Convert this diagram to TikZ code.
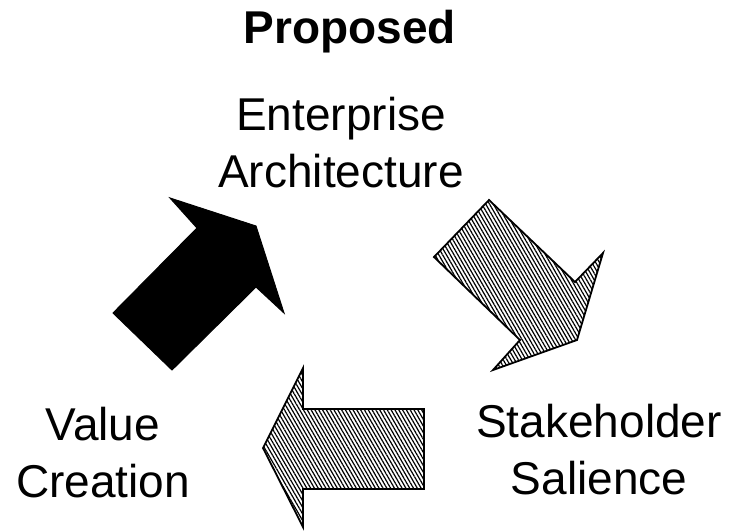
\documentclass[tikz,border=0pt]{standalone}
\usepackage{fontspec}
\setmainfont{Liberation Sans}
\usetikzlibrary{patterns.meta}
\tikzset{
	thick,
	topic/.style = {
			align      = center,
			anchor     = base,
			inner sep  = 0pt,
			font       = \fontsize{46}{57}\selectfont,
		},
	headline/.style = {
			anchor     = base,
			inner sep  = 0pt,
			font       = \fontsize{46}{57}\selectfont\bfseries,
		},
	solidarrow/.style = {
			draw = black,
			fill = black,
			line width = 1pt,
		},
	hatcharrow/.style = {
			draw = black,
			line width = 1.8pt,
			pattern = {Lines[angle=-60, distance=3.3pt, line width=1.2pt]},
		}
}

\begin{document}
\begin{tikzpicture}[x=1pt, y=-1pt]
	% Page frame
	\useasboundingbox (0,0) rectangle (731,531);

	% Title
	\node[headline] (title) at (350,43) {Proposed};

	% The three stages (anchored at the baseline of their last line)
	\node[topic] (ea) at (341,187) {Enterprise\\Architecture};
	\node[topic] (ss) at (599,494) {Stakeholder\\Salience};
	\node[topic] (vc) at (103,497) {Value\\Creation};

	% Value creation feeds enterprise architecture
	\draw[solidarrow] (256,226) -- (284,313) -- (256,287) -- (172,370)
		-- (113,313) -- (197,228) -- (170,198) -- cycle;

	% Enterprise architecture towards stakeholder salience
	\draw[hatcharrow] (577,340) -- (493,370) -- (520,340) -- (434,257)
		-- (489,200) -- (575,282) -- (603,253) -- cycle;

	% Stakeholder salience back to value creation
	\draw[hatcharrow] (263,448) -- (303,368) -- (303,409) -- (424,409)
		-- (424,489) -- (303,489) -- (303,527) -- cycle;
\end{tikzpicture}
\end{document}
